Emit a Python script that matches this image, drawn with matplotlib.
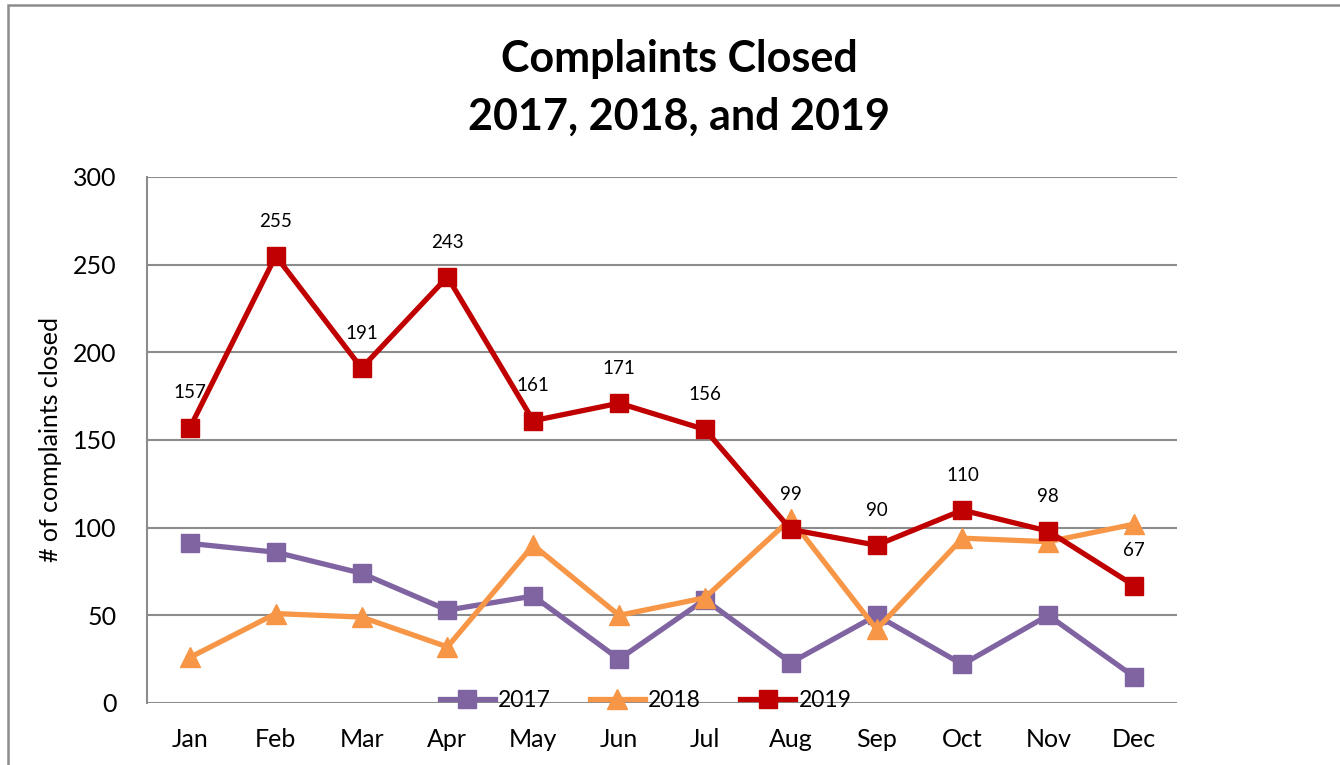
import matplotlib.pyplot as plt
from matplotlib.patches import Rectangle

months = ['Jan', 'Feb', 'Mar', 'Apr', 'May', 'Jun', 'Jul', 'Aug', 'Sep', 'Oct', 'Nov', 'Dec']
closed_2017 = [91, 86, 74, 53, 61, 25, 59, 23, 50, 22, 50, 15]
closed_2018 = [26, 51, 49, 32, 90, 50, 60, 105, 42, 94, 92, 102]
closed_2019 = [157, 255, 191, 243, 161, 171, 156, 99, 90, 110, 98, 67]

plt.rcParams['font.family'] = ['Lato', 'DejaVu Sans']

fig = plt.figure(figsize=(13.4, 7.65), dpi=100)
ax = fig.add_axes([147 / 1340, 1 - 703 / 765, 1030 / 1340, 526 / 765])

# chart border like the spreadsheet frame
fig.patches.append(Rectangle((8 / 1340, -0.1), 1.2, 1.1 - 5.5 / 765, transform=fig.transFigure,
                             fill=False, edgecolor='#8c8c8c', linewidth=1.8))

x = range(len(months))
ax.plot(x, closed_2017, color='#8064A2', lw=3.8, marker='s', ms=13, label='2017')
ax.plot(x, closed_2018, color='#F79646', lw=3.8, marker='^', ms=14, label='2018')
ax.plot(x, closed_2019, color='#C00000', lw=3.8, marker='s', ms=13, label='2019')

for i, v in enumerate(closed_2019):
    ax.annotate(str(v), (i, v), xytext=(0, 19), textcoords='offset points',
                ha='center', va='bottom', fontsize=13.5)

ax.set_xlim(-0.5, len(months) - 0.5)
ax.set_ylim(0, 300)
ax.set_yticks(range(0, 301, 50))
ax.set_xticks(list(x))
ax.set_xticklabels(months)
ax.tick_params(axis='both', length=0, labelsize=18)
ax.tick_params(axis='y', pad=22)
ax.tick_params(axis='x', pad=18)
ax.grid(True, axis='y', color='#8c8c8c', lw=1.5)
ax.set_axisbelow(True)
for side in ['top', 'right', 'bottom']:
    ax.spines[side].set_visible(False)
ax.spines['left'].set_color('#8c8c8c')
ax.spines['left'].set_linewidth(1.5)

ax.set_ylabel('# of complaints closed', fontsize=18, labelpad=8)

fig.text(0.507, 0.885, 'Complaints Closed\n2017, 2018, and 2019', ha='center', va='center',
         fontsize=31, fontweight='bold', linespacing=1.55)

ax.legend(loc='center', bbox_to_anchor=(0.484, 0.005), ncol=3, frameon=False,
          fontsize=16.5, handlelength=2.4, columnspacing=1.7, handletextpad=0.15)

fig.savefig('out.png', dpi=100)
